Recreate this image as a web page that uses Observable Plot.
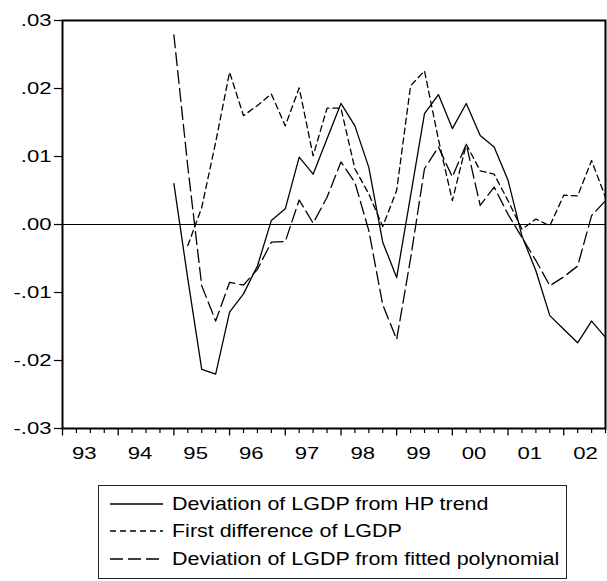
<!DOCTYPE html>
<html><head><meta charset="utf-8">
<script src="https://cdn.jsdelivr.net/npm/d3@7"></script>
<script src="https://cdn.jsdelivr.net/npm/@observablehq/plot@0.6"></script>
<style>
body{margin:0;background:#fff;font-family:"Liberation Sans",Arial,sans-serif;}
#wrap{position:relative;width:607px;height:581px;overflow:hidden;background:#fff;}
#chart{position:absolute;left:0;top:0;}
#legend{position:absolute;left:98px;top:485px;width:469px;height:94px;border:1.5px solid #222;box-sizing:border-box;background:#fff;}
.row{position:absolute;left:0;height:26px;width:460px;}
.row svg{position:absolute;left:11px;top:8px;}
.row span{position:absolute;left:73px;top:2px;font-size:18.5px;line-height:22px;white-space:nowrap;display:inline-block;transform-origin:left center;color:#000;}
</style></head><body>
<div id="wrap"><div id="chart"></div><div id="legend"></div></div>
<script>
// ---- data (quarterly, 1995Q1 .. 2002Q4) ----
const quarters = ["1995Q1","1995Q2","1995Q3","1995Q4","1996Q1","1996Q2","1996Q3","1996Q4",
  "1997Q1","1997Q2","1997Q3","1997Q4","1998Q1","1998Q2","1998Q3","1998Q4",
  "1999Q1","1999Q2","1999Q3","1999Q4","2000Q1","2000Q2","2000Q3","2000Q4",
  "2001Q1","2001Q2","2001Q3","2001Q4","2002Q1","2002Q2","2002Q3","2002Q4"];
const hpDeviation = [0.0060,-0.0080,-0.0213,-0.0220,-0.0129,-0.0102,-0.0061,0.0006,
  0.0023,0.0099,0.0074,0.0126,0.0178,0.0145,0.0084,-0.0026,
  -0.0078,0.0042,0.0163,0.0191,0.0141,0.0178,0.0131,0.0114,
  0.0065,-0.0017,-0.0068,-0.0134,-0.0154,-0.0174,-0.0142,-0.0166];
const firstDifference = [null,-0.0031,0.0025,0.0121,0.0224,0.0160,0.0175,0.0192,
  0.0145,0.0201,0.0101,0.0171,0.0171,0.0082,0.0045,-0.0003,
  0.0050,0.0204,0.0226,0.0125,0.0035,0.0118,0.0079,0.0074,
  0.0035,-0.0007,0.0008,-0.0002,0.0043,0.0042,0.0094,0.0040];
const polyDeviation = [0.0279,0.0085,-0.0090,-0.0142,-0.0085,-0.0089,-0.0066,-0.0026,
  -0.0025,0.0036,0.0002,0.0040,0.0092,0.0062,-0.0009,-0.0118,
  -0.0169,-0.0050,0.0082,0.0114,0.0070,0.0118,0.0028,0.0055,
  0.0015,-0.0019,-0.0053,-0.0090,-0.0077,-0.0061,0.0013,0.0035];
const seriesNames = ["Deviation of LGDP from HP trend","First difference of LGDP","Deviation of LGDP from fitted polynomial"];
const yearTicks = [1993,1994,1995,1996,1997,1998,1999,2000,2001,2002];
const yearLabels = ["93","94","95","96","97","98","99","00","01","02"];
const yTickValues = [-0.03,-0.02,-0.01,0,0.01,0.02,0.03];
const yTickLabels = ["-.03","-.02","-.01",".00",".01",".02",".03"];

// ---- build ----
const qTime = s => +s.slice(0,4) + (+s.slice(5) - 1) / 4;
const rows = (vals) => quarters.map((q,i) => ({t: qTime(q), v: vals[i]}));
const hpRows = rows(hpDeviation), fdRows = rows(firstDifference), pdRows = rows(polyDeviation);
const dashes = [null, "6,4", "13,5"];
const minorTicks = [];
yearTicks.forEach(y => { for (const k of [1,2,3]) minorTicks.push(y + k/4); });
const labelPos = yearTicks.map(y => y + 0.4);

const chart = Plot.plot({
  width: 607, height: 470,
  marginTop: 20, marginBottom: 42, marginLeft: 62, marginRight: 2,
  style: {fontFamily: "Liberation Sans, Arial, sans-serif", fontSize: "17px", color: "#000", background: "#fff", overflow: "visible"},
  x: {domain: [1993, 2002.75], label: null},
  y: {domain: [-0.03, 0.03], label: null},
  marks: [
    Plot.ruleY([0], {stroke: "#000", strokeWidth: 1.2}),
    Plot.line(hpRows, {x: "t", y: "v", stroke: "#000", strokeWidth: 1.3}),
    Plot.line(fdRows, {x: "t", y: "v", stroke: "#000", strokeWidth: 1.3, strokeDasharray: dashes[1]}),
    Plot.line(pdRows, {x: "t", y: "v", stroke: "#000", strokeWidth: 1.3, strokeDasharray: dashes[2]}),
    Plot.frame({stroke: "#000", strokeWidth: 2}),
    Plot.axisY({ticks: yTickValues, tickSize: 8, tickPadding: 2, strokeWidth: 1.2, fontSize: 17,
      tickFormat: d => yTickLabels[yTickValues.findIndex(v => Math.abs(v - d) < 1e-9)]}),
    Plot.axisX({ticks: yearTicks, tickSize: 7.5, strokeWidth: 1.3, tickFormat: () => ""}),
    Plot.axisX({ticks: minorTicks, tickSize: 5, strokeWidth: 1.2, tickFormat: () => ""}),
    Plot.axisX({ticks: labelPos, tickSize: 0, tickPadding: 18, fontSize: 17,
      tickFormat: d => yearLabels[labelPos.findIndex(v => Math.abs(v - d) < 1e-9)]})
  ]
});
document.getElementById("chart").appendChild(chart);

// horizontally widen tick labels and place them exactly
const STRETCH = 1.3;
const xs = chart.scale("x");
const frameLeft = xs.range[0];
const svgRect = chart.getBoundingClientRect();
const widen = el => {
  el.setAttribute("textLength", el.getComputedTextLength() * STRETCH);
  el.setAttribute("lengthAdjust", "spacingAndGlyphs");
};
const shiftX = (el, delta) => el.setAttribute("x", (parseFloat(el.getAttribute("x")) || 0) + delta);
chart.querySelectorAll("text").forEach(el => {
  const s = el.textContent.trim();
  if (!s) return;
  widen(el);
  const r = el.getBoundingClientRect();
  const yi = yTickLabels.indexOf(s);
  const xi = yearLabels.indexOf(s);
  if (yi >= 0) {
    shiftX(el, (svgRect.left + frameLeft - 10.5) - r.right);
  } else if (xi >= 0) {
    shiftX(el, (svgRect.left + xs.apply(labelPos[xi])) - (r.left + r.width / 2));
  }
});

// ---- legend ----
const legend = document.getElementById("legend");
const rowTops = [5, 32, 60];
seriesNames.forEach((name, i) => {
  const row = document.createElement("div");
  row.className = "row";
  row.style.top = rowTops[i] + "px";
  const svg = d3.create("svg").attr("width", 54).attr("height", 10);
  svg.append("line").attr("x1", 0).attr("x2", 53).attr("y1", 5).attr("y2", 5)
    .attr("stroke", "#000").attr("stroke-width", 1.3)
    .attr("stroke-dasharray", dashes[i]);
  row.appendChild(svg.node());
  const span = document.createElement("span");
  span.textContent = name;
  span.style.transform = "scaleX(1.16)";
  row.appendChild(span);
  legend.appendChild(row);
});
</script>
</body></html>
